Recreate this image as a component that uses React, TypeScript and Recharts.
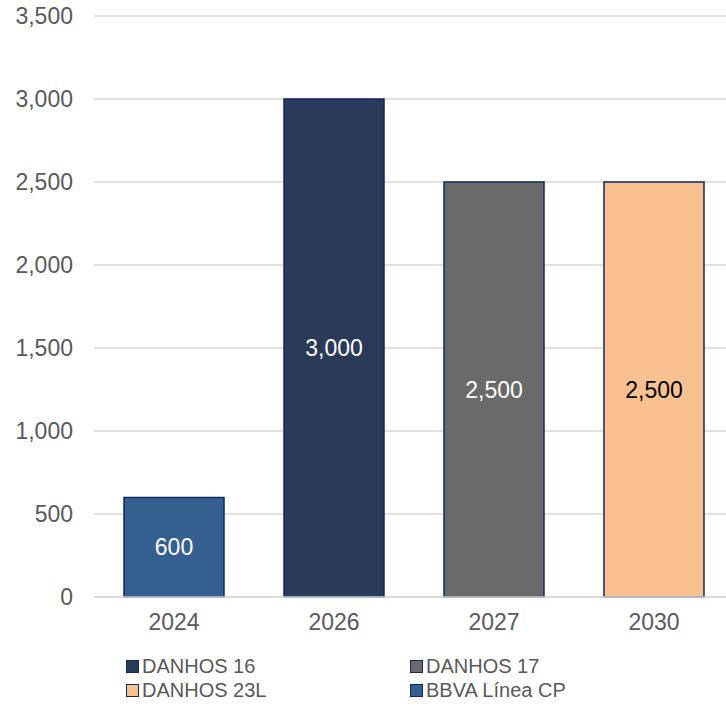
import React from 'react';
import { BarChart, Bar, XAxis, YAxis, CartesianGrid, LabelList, Legend } from 'recharts';

const categories = ['2024', '2026', '2027', '2030'];
const bbvaLineaCP = [600, null, null, null];
const danhos16 = [null, 3000, null, null];
const danhos17 = [null, null, 2500, null];
const danhos23L = [null, null, null, 2500];
const yTicks = [0, 500, 1000, 1500, 2000, 2500, 3000, 3500];

const seriesDefs = [
  { key: 'danhos16', name: 'DANHOS 16', values: danhos16, fill: '#2b3a58', label: '#ffffff' },
  { key: 'danhos17', name: 'DANHOS 17', values: danhos17, fill: '#6a6a6a', label: '#ffffff' },
  { key: 'danhos23L', name: 'DANHOS 23L', values: danhos23L, fill: '#f9c18f', label: '#000000' },
  { key: 'bbvaLineaCP', name: 'BBVA Línea CP', values: bbvaLineaCP, fill: '#355f8f', label: '#ffffff' },
];

const data = categories.map((c, i) => {
  const row: Record<string, any> = { year: c };
  seriesDefs.forEach((s) => {
    row[s.key] = s.values[i];
  });
  return row;
});

const FONT = '"Liberation Sans", Arial, sans-serif';
const fmt = (v: any) => (v == null ? '' : Number(v).toLocaleString('en-US'));

const LegendContent = () => (
  <div style={{ position: 'relative', width: 726, height: 50, fontFamily: FONT, fontSize: 20, color: '#595959' }}>
    {seriesDefs.map((s, i) => {
      const col = i % 2;
      const row = Math.floor(i / 2);
      return (
        <div
          key={s.key}
          style={{
            position: 'absolute',
            left: col === 0 ? 126 : 410,
            top: row * 24,
            display: 'flex',
            alignItems: 'center',
            lineHeight: '24px',
            whiteSpace: 'nowrap',
          }}
        >
          <span
            style={{
              display: 'inline-block',
              width: 11,
              height: 11,
              background: s.fill,
              border: '1.5px solid #0c2a66',
              marginRight: 3,
            }}
          />
          <span>{s.name}</span>
        </div>
      );
    })}
  </div>
);

export default function App() {
  return (
    <div style={{ position: 'fixed', left: 0, top: 0, width: 726, height: 707, overflow: 'hidden', background: '#fff' }}>
      <BarChart
        width={740}
        height={707}
        data={data}
        margin={{ top: 16, right: 6, bottom: 20, left: 0 }}
        barCategoryGap={30}
      >
        <CartesianGrid horizontal vertical={false} stroke="#d9d9d9" strokeWidth={1.5} />
        <XAxis
          dataKey="year"
          height={40}
          tickLine={false}
          axisLine={{ stroke: '#d9d9d9', strokeWidth: 1.5 }}
          tick={{ fill: '#595959', fontSize: 23, fontFamily: FONT }}
          tickMargin={11}
        />
        <YAxis
          width={94}
          domain={[0, 3500]}
          ticks={yTicks}
          interval={0}
          tickFormatter={fmt}
          tickLine={false}
          axisLine={false}
          tick={{ fill: '#595959', fontSize: 23, fontFamily: FONT }}
          tickMargin={15}
        />
        <Legend verticalAlign="bottom" wrapperStyle={{ left: 0, top: 654, width: 726 }} content={<LegendContent />} />
        {seriesDefs.map((s) => (
          <Bar
            key={s.key}
            dataKey={s.key}
            name={s.name}
            stackId="a"
            fill={s.fill}
            stroke="#0c2a66"
            strokeWidth={1.5}
            barSize={100}
            isAnimationActive={false}
          >
            <LabelList
              dataKey={s.key}
              position="center"
              formatter={fmt}
              fill={s.label}
              style={{ fontSize: 23, fontFamily: FONT }}
            />
          </Bar>
        ))}
      </BarChart>
    </div>
  );
}
